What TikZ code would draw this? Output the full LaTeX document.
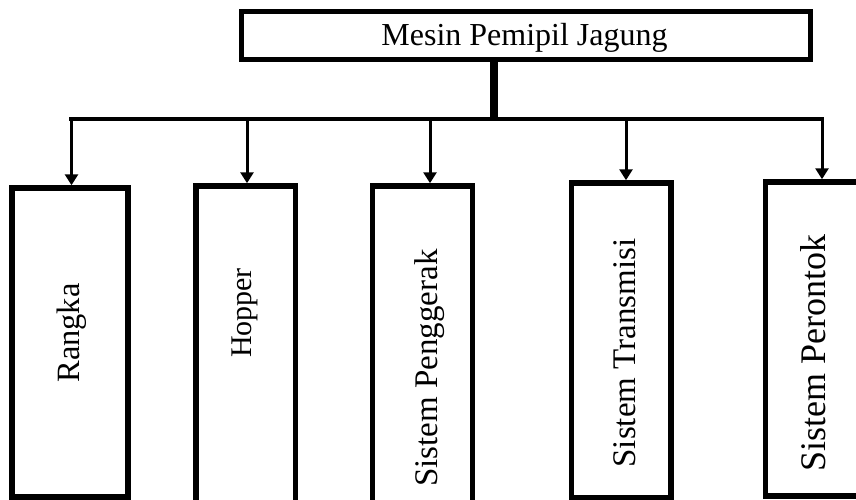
\documentclass[tikz,border=0pt]{standalone}
\usepackage{fontspec}
\setmainfont{Liberation Serif}
\usetikzlibrary{arrows.meta}
\begin{document}
\begin{tikzpicture}[x=1pt,y=-1pt,
  titlebox/.style={draw,line width=5pt,minimum width=569pt,minimum height=48pt,inner sep=0pt},
  partbox/.style={draw,line width=5.5pt,inner sep=0pt},
  partlabel/.style={rotate=90,inner sep=0pt},
  bar/.style={line width=4pt},
  stem/.style={line width=8pt},
  feed/.style={line width=3pt,-{Triangle[width=13pt,length=11pt]}}]
\useasboundingbox (0,0) rectangle (856,500);
% top unit
\node[titlebox] (top) at (526,35.5) {};
\node[inner sep=0pt,font=\fontsize{32}{38}\selectfont] (toptext) at (524.5,38) {Mesin Pemipil Jagung};
% distribution bar
\coordinate (hub) at (494,119);
\coordinate (barL) at (69,119);
\coordinate (barR) at (824,119);
\draw[stem] (hub |- top.south) -- (hub);
\draw[bar] (barL) -- (barR);
% component boxes
\node[partbox,minimum width=116pt,minimum height=309pt] (b1) at (70,342.5) {};
\node[partbox,minimum width=99.5pt,minimum height=319pt] (b2) at (245.75,345.5) {};
\node[partbox,minimum width=100pt,minimum height=319pt] (b3) at (422.5,345.5) {};
\node[partbox,minimum width=99.5pt,minimum height=314.5pt] (b4) at (621.25,340.25) {};
\node[partbox,minimum width=104.5pt,minimum height=314pt] (b5) at (817.75,339) {};
% labels
\node[partlabel,font=\fontsize{32.5}{38}\selectfont] (t1) at (72,333) {Rangka};
\node[partlabel,font=\fontsize{30}{36}\selectfont] (t2) at (245,313) {Hopper};
\node[partlabel,font=\fontsize{33}{40}\selectfont] (t3) at (430,368) {Sistem Penggerak};
\node[partlabel,font=\fontsize{33}{40}\selectfont] (t4) at (625,353) {Sistem Transmisi};
\node[partlabel,font=\fontsize{36}{42}\selectfont] (t5) at (813,353) {Sistem Perontok};
% feeds from the bar
\coordinate (a1) at (71.5,119);
\coordinate (a2) at (247,119);
\coordinate (a3) at (430,119);
\coordinate (a4) at (626,119);
\coordinate (a5) at (822,119);
\draw[feed] (a1) -- (a1 |- b1.north);
\draw[feed] (a2) -- (a2 |- b2.north);
\draw[feed] (a3) -- (a3 |- b3.north);
\draw[feed] (a4) -- (a4 |- b4.north);
\draw[feed] (a5) -- (a5 |- b5.north);
\end{tikzpicture}
\end{document}
